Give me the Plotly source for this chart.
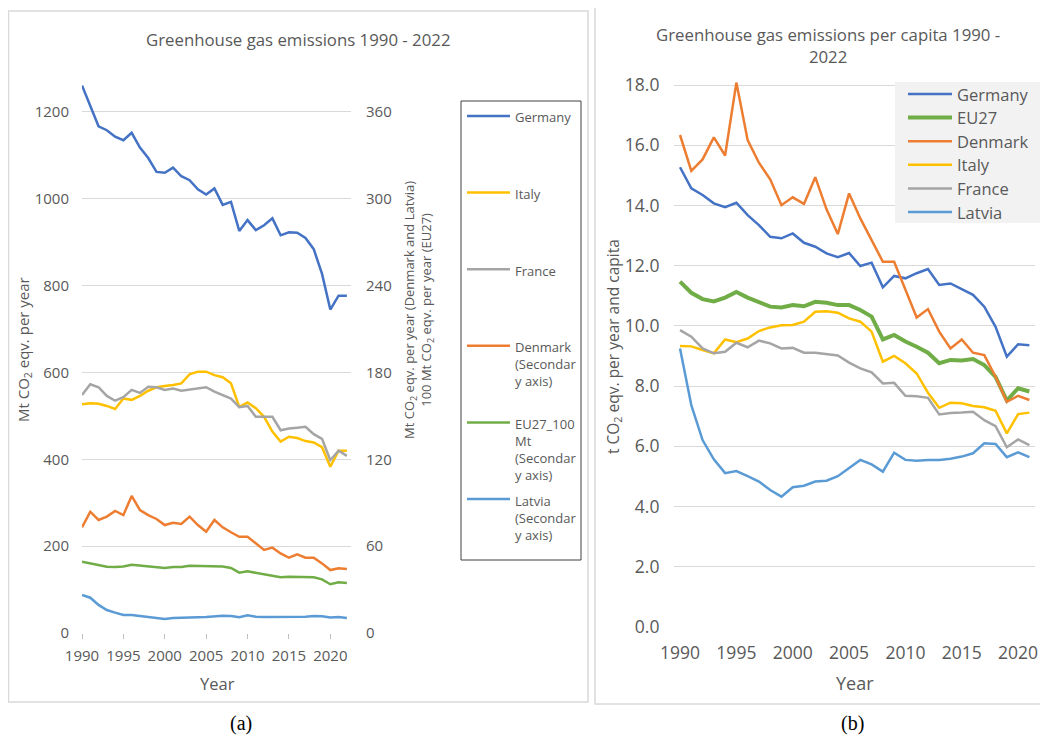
import plotly.graph_objects as go

# ---- data: panel (a), total emissions 1990-2022 ----
years_a = list(range(1990, 2023))
germany_a = [1261, 1212, 1167, 1158, 1143, 1135, 1152, 1118, 1094, 1062, 1060, 1072, 1052, 1043, 1022, 1010,
             1024, 986, 993, 926, 951, 928, 939, 955, 916, 923, 922, 910, 884, 827, 745, 777, 777]
italy_a = [527, 529, 528, 523, 516, 540, 537, 546, 558, 566, 569, 571, 575, 596, 602, 602, 594, 589, 575,
           521, 531, 518, 498, 464, 441, 452, 449, 442, 439, 428, 383, 420, 420]
france_a = [548, 573, 566, 546, 535, 543, 560, 553, 567, 566, 560, 563, 558, 561, 563, 566, 556, 548, 540,
            520, 523, 498, 498, 498, 467, 471, 473, 475, 458, 447, 398, 420, 408]
# secondary axis series
denmark_a = [73.0, 83.8, 78.1, 80.4, 84.3, 81.5, 94.7, 84.9, 81.5, 78.8, 74.6, 76.2, 75.3, 80.4, 74.6, 70.0,
             78.1, 73.0, 69.6, 66.5, 66.5, 62.0, 57.4, 59.0, 55.0, 52.0, 54.3, 52.0, 52.0, 48.1, 43.5, 44.7, 44.2]
eu27_a = [49.3, 48.1, 46.5, 45.8, 45.6, 46.0, 47.2, 46.5, 46.0, 45.3, 44.9, 45.6, 45.6, 46.5, 46.5, 46.3,
          46.5, 46.0, 44.9, 41.7, 42.6, 41.7, 40.5, 39.6, 38.5, 38.9, 38.9, 38.9, 38.5, 37.1, 33.7, 35.0, 34.5]
latvia_a = [26.3, 24.4, 19.4, 15.9, 14.1, 12.5, 12.5, 11.8, 11.3, 10.4, 9.7, 10.4, 10.7, 10.7, 10.9, 11.1,
            11.6, 12.0, 11.8, 10.9, 12.3, 11.3, 11.1, 11.1, 10.9, 10.9, 10.9, 11.3, 11.8, 11.6, 10.7, 11.1, 10.4]

# ---- data: panel (b), per capita 1990-2021 ----
years_b = list(range(1990, 2022))
germany_b = [15.27, 14.57, 14.35, 14.07, 13.94, 14.09, 13.68, 13.35, 12.96, 12.91, 13.07, 12.76, 12.63, 12.41,
             12.28, 12.42, 11.99, 12.10, 11.28, 11.66, 11.58, 11.75, 11.89, 11.36, 11.41, 11.21, 11.03, 10.64,
             9.97, 8.98, 9.39, 9.36]
eu27_b = [11.47, 11.10, 10.89, 10.81, 10.94, 11.13, 10.94, 10.80, 10.64, 10.61, 10.69, 10.65, 10.80, 10.77,
          10.69, 10.69, 10.53, 10.31, 9.55, 9.70, 9.48, 9.31, 9.11, 8.76, 8.87, 8.85, 8.90, 8.70, 8.31, 7.52,
          7.93, 7.82]
denmark_b = [16.34, 15.15, 15.53, 16.26, 15.66, 18.08, 16.17, 15.42, 14.87, 14.01, 14.27, 14.05, 14.94, 13.87,
             13.05, 14.40, 13.57, 12.85, 12.13, 12.13, 11.19, 10.28, 10.56, 9.81, 9.25, 9.55, 9.11, 9.03, 8.31,
             7.48, 7.68, 7.54]
italy_b = [9.33, 9.32, 9.20, 9.09, 9.55, 9.46, 9.58, 9.83, 9.95, 10.02, 10.03, 10.14, 10.47, 10.49, 10.44,
           10.25, 10.14, 9.81, 8.81, 9.00, 8.76, 8.42, 7.78, 7.28, 7.45, 7.43, 7.34, 7.30, 7.18, 6.43, 7.07, 7.12]
france_b = [9.86, 9.64, 9.25, 9.09, 9.14, 9.44, 9.29, 9.51, 9.42, 9.25, 9.27, 9.11, 9.11, 9.07, 9.02, 8.78,
            8.59, 8.46, 8.09, 8.11, 7.68, 7.66, 7.61, 7.06, 7.11, 7.12, 7.15, 6.87, 6.67, 5.97, 6.23, 6.04]
latvia_b = [9.25, 7.37, 6.21, 5.57, 5.11, 5.18, 5.01, 4.83, 4.55, 4.33, 4.64, 4.69, 4.83, 4.86, 5.01, 5.27,
            5.55, 5.40, 5.16, 5.79, 5.55, 5.52, 5.55, 5.55, 5.59, 5.66, 5.77, 6.10, 6.08, 5.64, 5.80, 5.64]

# Office palette
C_DE, C_IT, C_FR = '#4472C4', '#FFC000', '#A5A5A5'
C_DK, C_EU, C_LV = '#ED7D31', '#70AD47', '#5B9BD5'
TXT = '#595959'
GRID = '#d9d9d9'
FONT = 'Open Sans'

# page has an 8px body margin, so the figure is 8px smaller and everything is shifted by it
OFF = 8
W, H = 1048 - OFF, 736 - OFF
def px(x):
    return (x - OFF) / W
def py(y):
    return 1 - (y - OFF) / H

fig = go.Figure()

# panel (a)
series_a = [('Germany', germany_a, C_DE, 'y'), ('Italy', italy_a, C_IT, 'y'),
            ('France', france_a, C_FR, 'y'), ('Denmark', denmark_a, C_DK, 'y2'),
            ('EU27_100 Mt', eu27_a, C_EU, 'y2'), ('Latvia', latvia_a, C_LV, 'y2')]
for name, vals, col, ax in series_a:
    fig.add_trace(go.Scatter(x=years_a, y=vals, mode='lines', name=name, xaxis='x', yaxis=ax,
                             line=dict(color=col, width=2.5), showlegend=False))

# panel (b)
series_b = [('Germany', germany_b, C_DE, 2.5), ('EU27', eu27_b, C_EU, 4),
            ('Denmark', denmark_b, C_DK, 2.5), ('Italy', italy_b, C_IT, 2.5),
            ('France', france_b, C_FR, 2.5), ('Latvia', latvia_b, C_LV, 2.5)]
for name, vals, col, w in series_b:
    fig.add_trace(go.Scatter(x=years_b, y=vals, mode='lines', name=name, xaxis='x2', yaxis='y3',
                             line=dict(color=col, width=w), showlegend=False))

tickfont_a = dict(family=FONT, size=15, color=TXT)
tickfont_b = dict(family=FONT, size=17.5, color=TXT)

fig.update_layout(
    width=W, height=H,
    margin=dict(l=0, r=0, t=0, b=0, pad=0),
    paper_bgcolor='white', plot_bgcolor='white',
    font=dict(family=FONT, color=TXT),
    showlegend=False,
    xaxis=dict(domain=[px(82), px(351)], range=[1990, 2022.5], tickvals=list(range(1990, 2021, 5)),
               ticks='outside', ticklen=5, tickcolor='#bfbfbf', showgrid=False, zeroline=False,
               showline=False, tickfont=tickfont_a, anchor='y', ticklabelstandoff=4, automargin=False),
    yaxis=dict(domain=[py(633), py(81.6)], range=[0, 1270], tickvals=list(range(0, 1201, 200)),
               gridcolor=GRID, zeroline=False, showline=False, tickfont=tickfont_a, anchor='x',
               ticklabelstandoff=12, automargin=False),
    yaxis2=dict(overlaying='y', side='right', range=[0, 381], tickvals=list(range(0, 361, 60)),
                showgrid=False, zeroline=False, showline=False, tickfont=tickfont_a, anchor='x',
                ticklabelstandoff=14, automargin=False),
    xaxis2=dict(domain=[px(674.4), px(1035)], range=[1989.5, 2021.5], tickvals=list(range(1990, 2021, 5)),
                showgrid=False, zeroline=False, showline=False, tickfont=tickfont_b, anchor='y3',
                ticklabelstandoff=13, automargin=False),
    yaxis3=dict(domain=[py(627), py(80.5)], range=[0, 18.15], tickvals=list(range(0, 19, 2)),
                tickformat='.1f', gridcolor=GRID, zeroline=False, showline=False, tickfont=tickfont_b,
                anchor='x2', ticklabelstandoff=14, automargin=False),
)

shapes = [
    dict(type='rect', xref='paper', yref='paper', x0=px(8.5), x1=px(588), y0=py(702), y1=py(11),
         line=dict(color=GRID, width=1.5)),
    dict(type='rect', xref='paper', yref='paper', x0=px(595), x1=px(1046), y0=py(704), y1=py(5),
         line=dict(color=GRID, width=1.5)),
    dict(type='rect', xref='paper', yref='paper', x0=px(461), x1=px(581), y0=py(560), y1=py(101),
         line=dict(color='#404040', width=1)),
    dict(type='rect', xref='paper', yref='paper', x0=px(895), x1=px(1040), y0=py(223), y1=py(82),
         fillcolor='#f2f2f2', line=dict(width=0), layer='above'),
]

annotations = [
    dict(text='Greenhouse gas emissions 1990 - 2022', x=px(298), y=py(40), font=dict(size=16.8)),
    dict(text='Greenhouse gas emissions per capita 1990 -<br>2022', x=px(828), y=py(45), font=dict(size=16.8)),
    dict(text='Mt CO<sub>2</sub> eqv. per year', x=px(24), y=py(350), textangle=-90, font=dict(size=15)),
    dict(text='Mt CO<sub>2</sub> eqv. per year (Denmark and Latvia)<br>100 Mt CO<sub>2</sub> eqv. per year (EU27)',
         x=px(418), y=py(310), textangle=-90, font=dict(size=13)),
    dict(text='t CO<sub>2</sub> eqv. per year and capita', x=px(613), y=py(347), textangle=-90,
         font=dict(size=15.5)),
    dict(text='Year', x=px(217), y=py(683), font=dict(size=16.5)),
    dict(text='Year', x=px(855), y=py(683), font=dict(size=18)),
    dict(text='(a)', x=px(241), y=py(723), font=dict(family='Liberation Serif', size=20, color='black')),
    dict(text='(b)', x=px(852), y=py(723), font=dict(family='Liberation Serif', size=20, color='black')),
]

# legend of panel (a), drawn as in the source: entries evenly spread in a tall box
labels_a = ['Germany', 'Italy', 'France', 'Denmark<br>(Secondar<br>y axis)',
            'EU27_100<br>Mt<br>(Secondar<br>y axis)', 'Latvia<br>(Secondar<br>y axis)']
for i, (label, s) in enumerate(zip(labels_a, series_a)):
    yy = 116 + 76.6 * i
    shapes.append(dict(type='line', xref='paper', yref='paper', x0=px(467), x1=px(510), y0=py(yy), y1=py(yy),
                       line=dict(color=s[2], width=2.5)))
    annotations.append(dict(text=label, x=px(513), y=py(yy - 9.5), xanchor='left', yanchor='top',
                            align='left', font=dict(size=13)))

# legend of panel (b), grey box in the upper right
for i, (name, vals, col, w) in enumerate(series_b):
    yy = 94 + 23.6 * i
    shapes.append(dict(type='line', xref='paper', yref='paper', x0=px(908), x1=px(952), y0=py(yy), y1=py(yy),
                       line=dict(color=col, width=w), layer='above'))
    annotations.append(dict(text=name, x=px(955), y=py(yy), xanchor='left', yanchor='middle',
                            align='left', font=dict(size=16.5)))

for a in annotations:
    a.setdefault('xref', 'paper')
    a.setdefault('yref', 'paper')
    a.setdefault('xanchor', 'center')
    a.setdefault('yanchor', 'middle')
    a.setdefault('showarrow', False)
    a['font'] = dict(dict(family=FONT, color=TXT), **a['font'])

fig.update_layout(shapes=shapes, annotations=annotations)

fig.write_html("out.html")
